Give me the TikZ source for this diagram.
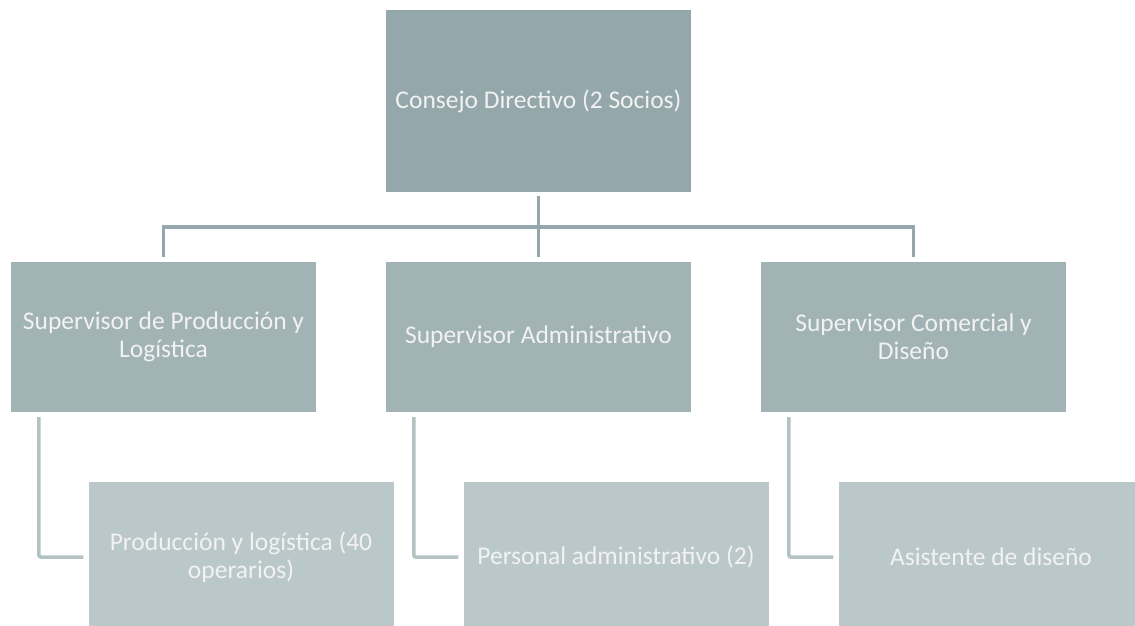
\documentclass[tikz,border=0pt]{standalone}
\usepackage{fontspec}
\setmainfont{Carlito}
\usetikzlibrary{positioning}

\definecolor{boardgray}{RGB}{148,167,170}
\definecolor{leadgray}{RGB}{161,179,181}
\definecolor{staffgray}{RGB}{187,200,201}
\definecolor{linkgray}{RGB}{180,194,196}

\tikzset{
  unit/.style={rectangle, fill=#1, text=white!95!black, inner sep=0pt,
    minimum width=305pt, minimum height=150pt, align=center,
    font=\fontsize{25.5}{28}\selectfont},
  treeline/.style={draw=boardgray, line width=3.5pt},
  staffline/.style={draw=linkgray, line width=3.5pt, rounded corners=2pt}
}

\begin{document}
\begin{tikzpicture}[x=1pt,y=-1pt]
  \clip (0,0) rectangle (1135,626);

  % board
  \node[unit=boardgray, minimum height=182pt] (board) at (538.5,101) {Consejo Directivo (2 Socios)};

  % supervisors
  \node[unit=leadgray] (prod)  at (163.5,337) {Supervisor de Producción y\\Logística};
  \node[unit=leadgray] (admin) at (538.5,337) {Supervisor Administrativo};
  \node[unit=leadgray] (sales) at (913.5,337) {Supervisor Comercial y\\Diseño};

  % staff
  \node[unit=staffgray] (prodstaff)  at (241,557) {Producción y logística (40\\operarios)};
  \node[unit=staffgray] (adminstaff) at (616,557) {Personal administrativo (2)};
  \node[unit=staffgray] (salesstaff) at (991,557) {Asistente de diseño};

  \coordinate (bus) at (538.5,227);

  \draw[treeline, shorten <=4pt, shorten >=5pt] (board.south) -- (admin.north);
  \draw[treeline, shorten >=5pt] (bus) -| (prod.north);
  \draw[treeline, shorten >=5pt] (bus) -| (sales.north);

  \draw[staffline, shorten <=5pt, shorten >=5pt] ([xshift=28pt]prod.south west) |- (prodstaff.west);
  \draw[staffline, shorten <=5pt, shorten >=5pt] ([xshift=28pt]admin.south west) |- (adminstaff.west);
  \draw[staffline, shorten <=5pt, shorten >=5pt] ([xshift=28pt]sales.south west) |- (salesstaff.west);
\end{tikzpicture}
\end{document}
